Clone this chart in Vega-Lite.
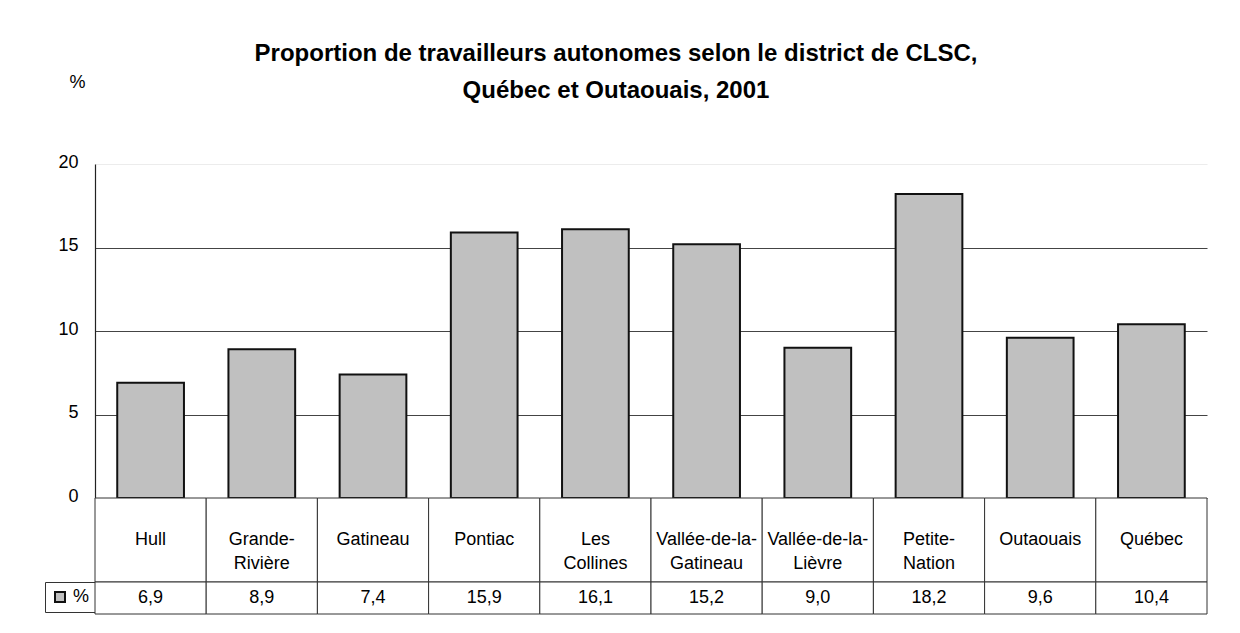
{
  "$schema": "https://vega.github.io/schema/vega-lite/v6.json",
  "padding": {"left": 44, "top": 42, "right": 20, "bottom": 10},
  "background": "white",
  "bounds": "flush",
  "spacing": 0,
  "title": {
    "text": ["Proportion de travailleurs autonomes selon le district de CLSC,", "Québec et Outaouais, 2001"],
    "font": "Liberation Sans",
    "fontSize": 24,
    "fontWeight": "bold",
    "color": "black",
    "lineHeight": 37,
    "anchor": "middle",
    "frame": "bounds",
    "offset": -30,
    "dx": -10
  },
  "config": {
    "view": {"stroke": null},
    "font": "Liberation Sans",
    "locale": {"number": {"decimal": ",", "thousands": " ", "grouping": [3], "currency": ["", " $"]}}
  },
  "resolve": {"scale": {"x": "independent", "fill": "independent"}, "legend": {"fill": "independent"}},
  "datasets": {
    "clsc": [
      {"district": "Hull", "label": "Hull", "pct": 6.9, "serie": "%"},
      {"district": "Grande-Rivière", "label": "Grande-\nRivière", "pct": 8.9, "serie": "%"},
      {"district": "Gatineau", "label": "Gatineau", "pct": 7.4, "serie": "%"},
      {"district": "Pontiac", "label": "Pontiac", "pct": 15.9, "serie": "%"},
      {"district": "Les Collines", "label": "Les\nCollines", "pct": 16.1, "serie": "%"},
      {"district": "Vallée-de-la-Gatineau", "label": "Vallée-de-la-\nGatineau", "pct": 15.2, "serie": "%"},
      {"district": "Vallée-de-la-Lièvre", "label": "Vallée-de-la-\nLièvre", "pct": 9.0, "serie": "%"},
      {"district": "Petite-Nation", "label": "Petite-\nNation", "pct": 18.2, "serie": "%"},
      {"district": "Outaouais", "label": "Outaouais", "pct": 9.6, "serie": "%"},
      {"district": "Québec", "label": "Québec", "pct": 10.4, "serie": "%"}
    ]
  },
  "vconcat": [
    {
      "width": 1112,
      "height": 334,
      "data": {"name": "clsc"},
      "mark": {"type": "bar", "stroke": "#111", "strokeWidth": 2},
      "encoding": {
        "x": {"field": "district", "type": "nominal", "sort": null, "axis": null,
              "scale": {"paddingInner": 0.4, "paddingOuter": 0.2}},
        "y": {"field": "pct", "type": "quantitative",
              "scale": {"domain": [0, 20], "nice": false},
              "axis": {
                "title": "%", "titleAngle": 0, "titleX": -18, "titleY": -77,
                "titleAlign": "center", "titleBaseline": "alphabetic",
                "titleFont": "Liberation Sans", "titleFontSize": 18, "titleFontWeight": "normal", "titleColor": "black",
                "values": [0, 5, 10, 15, 20], "format": "d",
                "ticks": false, "labelPadding": 17, "labelOffset": -2,
                "labelFont": "Liberation Sans", "labelFontSize": 18, "labelColor": "black",
                "domainColor": "#222", "domainWidth": 1.2,
                "grid": true, "gridWidth": 1.2,
                "gridColor": {"condition": {"test": "datum.value == 20", "value": "#ececec"}, "value": "#444"}
              }},
        "fill": {"field": "serie", "type": "nominal", "scale": {"range": ["#c0c0c0"]},
          "legend": {
            "orient": "none", "legendX": -50, "legendY": 418, "title": null, "padding": 6,
            "strokeColor": "#333", "symbolType": "square", "symbolSize": 100,
            "symbolStrokeWidth": 2, "symbolStrokeColor": "#111",
            "labelFont": "Liberation Sans", "labelFontSize": 18, "labelColor": "black", "labelOffset": 4
          }}
      }
    },
    {
      "width": 1112,
      "height": 84,
      "data": {"name": "clsc"},
      "layer": [
        {
          "mark": {"type": "rect", "fill": "white", "stroke": "#333", "strokeWidth": 1},
          "encoding": {
            "x": {"field": "district", "type": "nominal", "sort": null, "axis": null,
                  "scale": {"paddingInner": 0, "paddingOuter": 0}}
          }
        },
        {
          "mark": {"type": "text", "fontSize": 18, "font": "Liberation Sans", "color": "black",
                   "lineBreak": "\n", "lineHeight": 24, "baseline": "middle", "align": "center"},
          "encoding": {
            "x": {"field": "district", "type": "nominal", "sort": null, "axis": null},
            "text": {"field": "label", "type": "nominal"}
          }
        }
      ]
    },
    {
      "width": 1112,
      "height": 32,
      "data": {"name": "clsc"},
      "layer": [
        {
          "mark": {"type": "rect", "fill": "white", "stroke": "#333", "strokeWidth": 1},
          "encoding": {
            "x": {"field": "district", "type": "nominal", "sort": null, "axis": null,
                  "scale": {"paddingInner": 0, "paddingOuter": 0}}
          }
        },
        {
          "mark": {"type": "text", "fontSize": 18, "font": "Liberation Sans", "color": "black",
                   "baseline": "middle", "align": "center"},
          "encoding": {
            "x": {"field": "district", "type": "nominal", "sort": null, "axis": null},
            "text": {"field": "pct", "type": "quantitative", "format": ".1f"}
          }
        }
      ]
    }
  ]
}
